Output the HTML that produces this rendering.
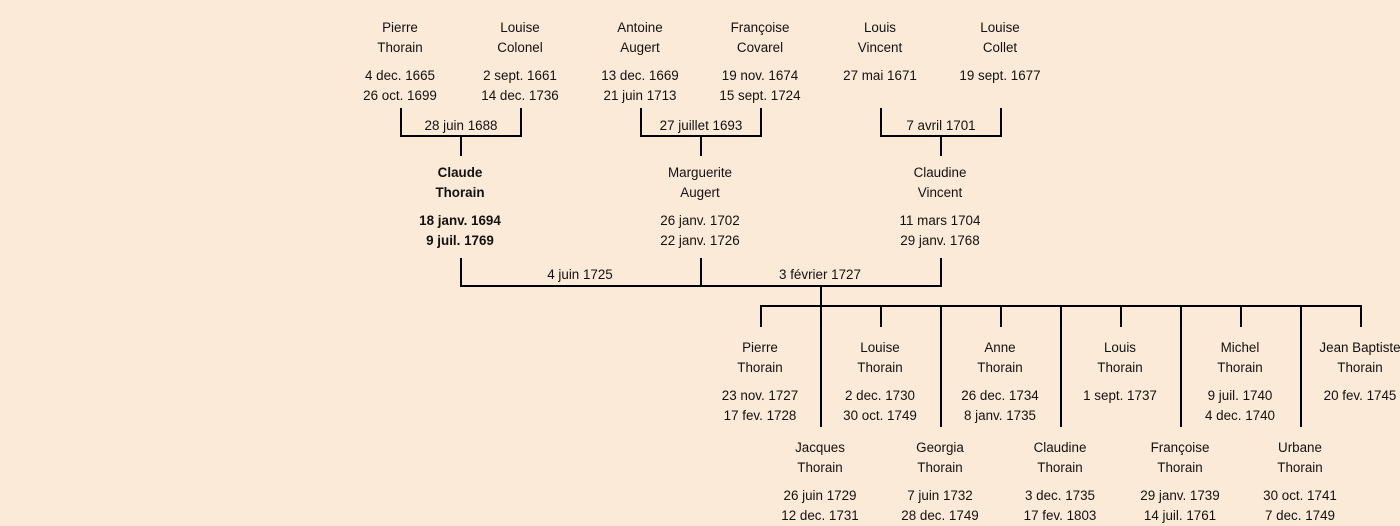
<!DOCTYPE html>
<html>
<head>
<meta charset="utf-8">
<style>
  html, body { margin:0; padding:0; }
  body { width:1400px; height:521px; overflow:hidden; background:#FCEAD8; position:relative;
         font-family:"Liberation Sans","DejaVu Sans",sans-serif; font-size:13.4px; color:#111; }
  .t { position:absolute; width:140px; text-align:center; line-height:20px; white-space:nowrap; margin-top:1px; }
  .b { font-weight:bold; }
  svg { position:absolute; left:0; top:0; }
</style>
</head>
<body>
<svg width="1400" height="521" viewBox="0 0 1400 521">
  <g stroke="#000" stroke-width="2" fill="none" shape-rendering="crispEdges">
    <path d="M401 108 V136 H521 V108 M461 136 V156"/>
    <path d="M641 108 V136 H761 V108 M701 136 V156"/>
    <path d="M881 108 V136 H1001 V108 M941 136 V156"/>
    <path d="M461 258 V286 H941 V258 M701 258 V286 M821 286 V306"/>
    <path d="M760 306 H1362"/>
    <path d="M761 306 V327 M881 306 V327 M1001 306 V327 M1121 306 V327 M1241 306 V327 M1361 306 V327"/>
    <path d="M821 306 V427 M941 306 V427 M1061 306 V427 M1181 306 V427 M1301 306 V427"/>
  </g>
</svg>

<div class="t" style="left:330px;top:17px">Pierre<br>Thorain</div>
<div class="t" style="left:330px;top:65px">4 dec. 1665<br>26 oct. 1699</div>
<div class="t" style="left:450px;top:17px">Louise<br>Colonel</div>
<div class="t" style="left:450px;top:65px">2 sept. 1661<br>14 dec. 1736</div>
<div class="t" style="left:570px;top:17px">Antoine<br>Augert</div>
<div class="t" style="left:570px;top:65px">13 dec. 1669<br>21 juin 1713</div>
<div class="t" style="left:690px;top:17px">Françoise<br>Covarel</div>
<div class="t" style="left:690px;top:65px">19 nov. 1674<br>15 sept. 1724</div>
<div class="t" style="left:810px;top:17px">Louis<br>Vincent</div>
<div class="t" style="left:810px;top:65px">27 mai 1671</div>
<div class="t" style="left:930px;top:17px">Louise<br>Collet</div>
<div class="t" style="left:930px;top:65px">19 sept. 1677</div>

<div class="t" style="left:391px;top:115px">28 juin 1688</div>
<div class="t" style="left:631px;top:115px">27 juillet 1693</div>
<div class="t" style="left:871px;top:115px">7 avril 1701</div>

<div class="t b" style="left:390px;top:162px">Claude<br>Thorain</div>
<div class="t b" style="left:390px;top:210px">18 janv. 1694<br>9 juil. 1769</div>
<div class="t" style="left:630px;top:162px">Marguerite<br>Augert</div>
<div class="t" style="left:630px;top:210px">26 janv. 1702<br>22 janv. 1726</div>
<div class="t" style="left:870px;top:162px">Claudine<br>Vincent</div>
<div class="t" style="left:870px;top:210px">11 mars 1704<br>29 janv. 1768</div>

<div class="t" style="left:510px;top:264px">4 juin 1725</div>
<div class="t" style="left:750px;top:264px">3 février 1727</div>

<div class="t" style="left:690px;top:337px">Pierre<br>Thorain</div>
<div class="t" style="left:690px;top:385px">23 nov. 1727<br>17 fev. 1728</div>
<div class="t" style="left:810px;top:337px">Louise<br>Thorain</div>
<div class="t" style="left:810px;top:385px">2 dec. 1730<br>30 oct. 1749</div>
<div class="t" style="left:930px;top:337px">Anne<br>Thorain</div>
<div class="t" style="left:930px;top:385px">26 dec. 1734<br>8 janv. 1735</div>
<div class="t" style="left:1050px;top:337px">Louis<br>Thorain</div>
<div class="t" style="left:1050px;top:385px">1 sept. 1737</div>
<div class="t" style="left:1170px;top:337px">Michel<br>Thorain</div>
<div class="t" style="left:1170px;top:385px">9 juil. 1740<br>4 dec. 1740</div>
<div class="t" style="left:1290px;top:337px">Jean Baptiste<br>Thorain</div>
<div class="t" style="left:1290px;top:385px">20 fev. 1745</div>

<div class="t" style="left:750px;top:437px">Jacques<br>Thorain</div>
<div class="t" style="left:750px;top:485px">26 juin 1729<br>12 dec. 1731</div>
<div class="t" style="left:870px;top:437px">Georgia<br>Thorain</div>
<div class="t" style="left:870px;top:485px">7 juin 1732<br>28 dec. 1749</div>
<div class="t" style="left:990px;top:437px">Claudine<br>Thorain</div>
<div class="t" style="left:990px;top:485px">3 dec. 1735<br>17 fev. 1803</div>
<div class="t" style="left:1110px;top:437px">Françoise<br>Thorain</div>
<div class="t" style="left:1110px;top:485px">29 janv. 1739<br>14 juil. 1761</div>
<div class="t" style="left:1230px;top:437px">Urbane<br>Thorain</div>
<div class="t" style="left:1230px;top:485px">30 oct. 1741<br>7 dec. 1749</div>
</body>
</html>
